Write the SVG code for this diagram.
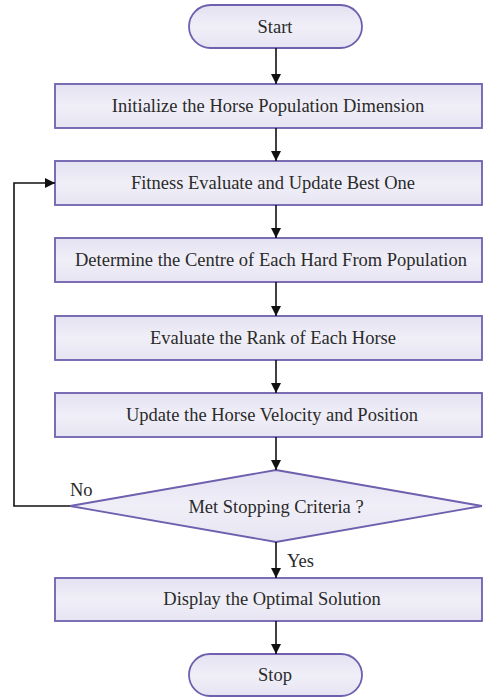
<svg xmlns="http://www.w3.org/2000/svg" width="486" height="700" viewBox="0 0 486 700">
<defs>
<linearGradient id="g" x1="0" y1="0" x2="0" y2="1">
<stop offset="0" stop-color="#e4e1f1"/>
<stop offset="0.5" stop-color="#f0eff8"/>
<stop offset="1" stop-color="#e6e4f2"/>
</linearGradient>
<marker id="ah" viewBox="0 0 10 10" refX="10" refY="5" markerWidth="10" markerHeight="10" markerUnits="userSpaceOnUse" orient="auto">
<path d="M0,0 L10,5 L0,10 z" fill="#111"/>
</marker>
<style>
.n{fill:url(#g);stroke:#6f5fae;stroke-width:1.8}
.t{font-family:"Liberation Serif","Times New Roman",serif;font-size:18.5px;fill:#2a2a2a;text-anchor:middle;dominant-baseline:central}
.l{font-family:"Liberation Serif","Times New Roman",serif;font-size:18.5px;fill:#2a2a2a}
.c{fill:none;stroke:#111;stroke-width:1.6}
</style>
</defs>
<rect width="486" height="700" fill="#fff"/>
<g id="start"><rect class="n" x="189" y="5" width="173" height="43" rx="21.5"/><text class="t" x="275" y="27">Start</text></g>
<g id="init"><rect class="n" x="55" y="84" width="427" height="44"/><text class="t" x="268" y="106">Initialize the Horse Population Dimension</text></g>
<g id="fitness"><rect class="n" x="55" y="161" width="427" height="44"/><text class="t" x="273" y="183">Fitness Evaluate and Update Best One</text></g>
<g id="centre"><rect class="n" x="55" y="238" width="427" height="44"/><text class="t" x="271" y="260">Determine the Centre of Each Hard From Population</text></g>
<g id="rank"><rect class="n" x="55" y="316" width="427" height="44"/><text class="t" x="273" y="338">Evaluate the Rank of Each Horse</text></g>
<g id="update"><rect class="n" x="55" y="393" width="427" height="44"/><text class="t" x="272" y="415">Update the Horse Velocity and Position</text></g>
<g id="decision"><polygon class="n" points="276,470 482,506 276,542 70,506"/><text class="t" x="276" y="507">Met Stopping Criteria ?</text></g>
<g id="display"><rect class="n" x="55" y="578" width="427" height="43"/><text class="t" x="272" y="599">Display the Optimal Solution</text></g>
<g id="stop"><rect class="n" x="189" y="654" width="173" height="42" rx="21"/><text class="t" x="275" y="675">Stop</text></g>
<g id="connectors">
<line class="c" x1="276" y1="48" x2="276" y2="84" marker-end="url(#ah)"/>
<line class="c" x1="276" y1="128" x2="276" y2="161" marker-end="url(#ah)"/>
<line class="c" x1="276" y1="205" x2="276" y2="238" marker-end="url(#ah)"/>
<line class="c" x1="276" y1="282" x2="276" y2="316" marker-end="url(#ah)"/>
<line class="c" x1="276" y1="360" x2="276" y2="393" marker-end="url(#ah)"/>
<line class="c" x1="276" y1="437" x2="276" y2="470" marker-end="url(#ah)"/>
<line class="c" x1="276" y1="542" x2="276" y2="578" marker-end="url(#ah)"/>
<line class="c" x1="276" y1="621" x2="276" y2="654" marker-end="url(#ah)"/>
<polyline class="c" points="70,506 14,506 14,183 55,183" marker-end="url(#ah)"/>
<text class="l" x="70" y="496">No</text>
<text class="l" x="287" y="567">Yes</text>
</g>
</svg>
